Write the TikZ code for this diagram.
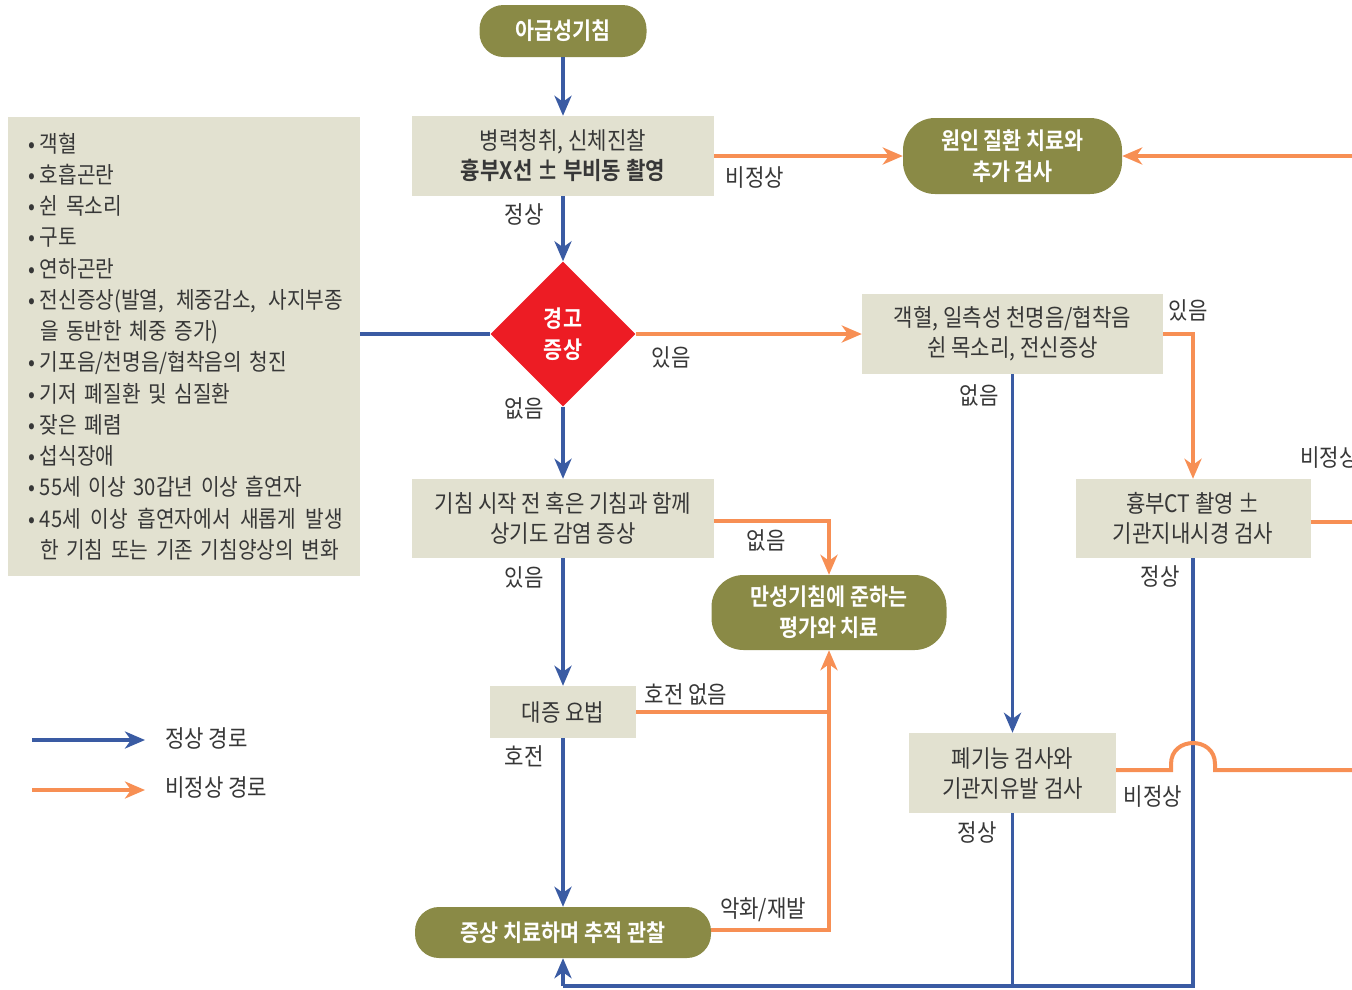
\documentclass[tikz,border=0pt]{standalone}
\usepackage{fontspec}
\setmainfont{Noto Sans CJK KR}[FakeStretch=0.88,BoldFont={Noto Sans CJK KR Bold},BoldFeatures={FakeStretch=0.88}]
\usetikzlibrary{arrows.meta,shapes.geometric}
\definecolor{olive}{RGB}{138,138,70}
\definecolor{beige}{RGB}{226,225,208}
\definecolor{nblue}{RGB}{58,91,163}
\definecolor{aorange}{RGB}{247,143,84}
\definecolor{wred}{RGB}{237,28,36}
\definecolor{txt}{RGB}{55,55,55}
\tikzset{
  box/.style={fill=beige, inner sep=0pt, align=center, text=txt, font=\fontsize{24}{30}\selectfont},
  term/.style={fill=olive, inner sep=0pt, align=center, text=white, rounded corners=24pt, font=\fontsize{23.5}{31}\selectfont\bfseries},
  lbl/.style={text=txt, inner sep=0pt, font=\fontsize{24}{26}\selectfont},
  tipb/.style={-{Stealth[length=20pt,width=17pt,inset=6pt]}},
  nline/.style={draw=nblue, line width=3.5pt},
  aline/.style={draw=aorange, line width=4pt},
}
\newcommand{\bul}{\makebox[12pt][l]{•}}
\begin{document}
\begin{tikzpicture}[x=1pt,y=-1pt]
\useasboundingbox (0,0) rectangle (1352,989);
% nodes
\node[term, minimum width=167, minimum height=52] (start) at (563,31) {아급성기침};
\node[box, minimum width=302, minimum height=80] (exam) at (563,156) {병력청취, 신체진찰\\\textbf{흉부X선 ± 부비동 촬영}};
\node[term, rounded corners=32pt, minimum width=219, minimum height=76] (cause) at (1012.5,156) {원인 질환 치료와\\추가 검사};
\node[diamond, fill=wred, inner sep=0pt, minimum width=145, minimum height=145, align=center, text=white, font=\fontsize{23.5}{31}\selectfont\bfseries] (warn) at (563,334) {경고\\증상};
\node[fill=beige, minimum width=352, minimum height=459, inner xsep=20pt, inner ysep=0pt, text width=312, align=left, text=txt, font=\fontsize{23}{31.25}\selectfont] (list) at (184,346.5) {%
\bul 객혈\\
\bul 호흡곤란\\
\bul 쉰 목소리\\
\bul 구토\\
\bul 연하곤란\\
\bul\makebox[303pt][l]{전신증상(발열,\hfill 체중감소,\hfill 사지부종}\\
\hspace*{12pt}을 동반한 체중 증가)\\
\bul 기포음/천명음/협착음의 청진\\
\bul 기저 폐질환 및 심질환\\
\bul 잦은 폐렴\\
\bul 섭식장애\\
\bul 55세 이상 30갑년 이상 흡연자\\
\bul\makebox[303pt][l]{45세\hfill 이상\hfill 흡연자에서\hfill 새롭게\hfill 발생}\\
\hspace*{12pt}\makebox[290pt][l]{한 기침 또는 기존 기침양상의 변화}};
\node[box, minimum width=301, minimum height=80] (hem) at (1012.5,334) {객혈, 일측성 천명음/협착음\\쉰 목소리, 전신증상};
\node[box, minimum width=302, minimum height=79] (uri) at (563,518.5) {기침 시작 전 혹은 기침과 함께\\상기도 감염 증상};
\node[term, rounded corners=32pt, minimum width=235, minimum height=75] (chronic) at (829,612.5) {만성기침에 준하는\\평가와 치료};
\node[box, minimum width=235, minimum height=79] (ct) at (1193,518.5) {흉부CT 촬영 ±\\기관지내시경 검사};
\node[box, minimum width=146, minimum height=52] (sym) at (563,712) {대증 요법};
\node[box, minimum width=207, minimum height=80] (pft) at (1012.5,773) {폐기능 검사와\\기관지유발 검사};
\node[term, minimum width=296, minimum height=51] (follow) at (563,932.5) {증상 치료하며 추적 관찰};
% coordinates
\coordinate (r1) at (1360,156);
\coordinate (r2) at (1360,522);
\coordinate (r3) at (1360,770);
\coordinate (u1) at (829,521);
\coordinate (j1) at (829,712);
\coordinate (j2) at (829,930);
\coordinate (b1) at (1193,986);
\coordinate (b2) at (1012.5,986);
\coordinate (b3) at (563,986);
\coordinate (br1) at (1171,770);
\coordinate (br1t) at (1171,764);
\coordinate (br2t) at (1215,764);
\coordinate (br2) at (1215,770);
% blue connectors
\draw[nline,tipb] (start) -- (exam);
\draw[nline,tipb] (exam) -- (warn);
\draw[nline] (list.east |- warn.west) -- (warn.west);
\draw[nline,tipb] (warn) -- (uri);
\draw[nline,tipb] (uri) -- (sym);
\draw[nline,tipb] (sym) -- (follow);
\draw[nline,tipb] (hem.south) -- (pft.north);
\draw[nline] (ct.south) -- (b1) -- (b3);
\draw[nline] (pft.south) -- (b2);
\draw[nline,tipb] (b3) -- (follow.south);
% orange connectors
\draw[aline,tipb] (exam.east) -- (cause.west);
\draw[aline,tipb] (r1) -- (cause.east);
\draw[aline,tipb] (warn.east) -- (hem.west);
\draw[aline,tipb] (uri.east |- u1) -- (u1) -- (chronic.north);
\draw[aline] (sym.east) -- (j1);
\draw[aline,tipb] (follow.east |- j2) -- (j2) -- (chronic.south);
\draw[aline,tipb] (hem.east) -| (ct.north);
\draw[aline] (ct.east |- r2) -- (r2);
\draw[aline] (pft.east |- br1) -- (br1) -- (br1t) .. controls (1171,736) and (1215,736) .. (br2t) -- (br2) -- (r3);
% labels
\node[lbl] (l1) at (524,214) {정상};
\node[lbl] (l2) at (755,178) {비정상};
\node[lbl] (l3) at (671,357) {있음};
\node[lbl] (l4) at (524,408) {없음};
\node[lbl] (l5) at (766,540) {없음};
\node[lbl] (l6) at (524,577) {있음};
\node[lbl] (l7) at (686,694) {호전 없음};
\node[lbl] (l8) at (524,756) {호전};
\node[lbl] (l9) at (763,910) {악화/재발};
\node[lbl] (l10) at (1188,310) {있음};
\node[lbl] (l11) at (979,395) {없음};
\node[lbl,anchor=west] (l12) at (1300,458) {비정상};
\node[lbl] (l13) at (1160,576) {정상};
\node[lbl] (l14) at (1153,797) {비정상};
\node[lbl] (l15) at (977,832) {정상};
% legend
\coordinate (la1) at (32,740);
\coordinate (la2) at (145,740);
\coordinate (lb1) at (32,790);
\coordinate (lb2) at (145,790);
\draw[nline,tipb] (la1) -- (la2);
\draw[aline,tipb] (lb1) -- (lb2);
\node[lbl,anchor=west] (leg1) at (165,738) {정상 경로};
\node[lbl,anchor=west] (leg2) at (165,788) {비정상 경로};
\end{tikzpicture}
\end{document}
